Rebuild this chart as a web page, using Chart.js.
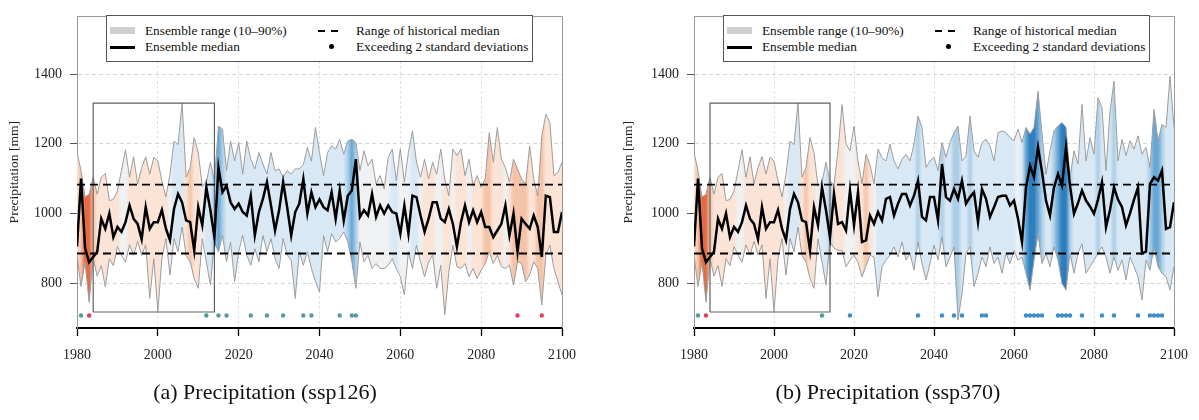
<!DOCTYPE html>
<html>
<head>
<meta charset="utf-8">
<script src="https://cdn.jsdelivr.net/npm/chart.js@4.4.1/dist/chart.umd.min.js"></script>
<style>
  html, body { margin:0; padding:0; background:#fff; }
  body { width:1199px; height:420px; position:relative; overflow:hidden; font-family:'Liberation Serif', 'Times New Roman', serif; }
  .panel { position:absolute; top:0; height:420px; }
  #p1 { left:0; width:600px; }
  #p2 { left:600px; width:599px; }
  canvas { display:block; }
  .legend { position:absolute; top:15px; width:427px; height:47px; border:1px solid #555; background:#fff; box-sizing:border-box; color:#111; font-size:13.3px; }
  .legend span { position:absolute; display:block; }
  .lt { line-height:16px; white-space:nowrap; }
  .sw-range { left:3px; top:11px; width:25px; height:7px; background:#cfcfcf; }
  .sw-med { left:3px; top:30px; width:25px; height:2.6px; background:#000; }
  .sw-dash { top:14px; width:7px; height:1.8px; background:#000; }
  .sw-dot { left:222px; top:28px; width:5px; height:5px; border-radius:50%; background:#000; }
  .caption { position:absolute; top:378px; font-size:22px; line-height:28px; white-space:nowrap; transform:translateX(-50%); color:#111; }
</style>
</head>
<body>
<div class="panel" id="p1">
  <canvas id="c1" width="600" height="420"></canvas>
  <div class="legend" style="left:106px">
    <span class="sw-range"></span><span class="lt" style="left:38px;top:7px">Ensemble range (10–90%)</span>
    <span class="sw-med"></span><span class="lt" style="left:38px;top:23px">Ensemble median</span>
    <span class="sw-dash" style="left:211px"></span><span class="sw-dash" style="left:224px"></span><span class="lt" style="left:249px;top:7px">Range of historical median</span>
    <span class="sw-dot"></span><span class="lt" style="left:249px;top:23px">Exceeding 2 standard deviations</span>
  </div>
  <div class="caption" style="left:265px">(a) Precipitation (ssp126)</div>
</div>
<div class="panel" id="p2">
  <canvas id="c2" width="599" height="420"></canvas>
  <div class="legend" style="left:123px">
    <span class="sw-range"></span><span class="lt" style="left:38px;top:7px">Ensemble range (10–90%)</span>
    <span class="sw-med"></span><span class="lt" style="left:38px;top:23px">Ensemble median</span>
    <span class="sw-dash" style="left:211px"></span><span class="sw-dash" style="left:224px"></span><span class="lt" style="left:249px;top:7px">Range of historical median</span>
    <span class="sw-dot"></span><span class="lt" style="left:249px;top:23px">Exceeding 2 standard deviations</span>
  </div>
  <div class="caption" style="left:288px">(b) Precipitation (ssp370)</div>
</div>

<script>
// ---------------- DATA ----------------
const firstYear = 1980, lastYear = 2100;
const years = [];
for (let y = firstYear; y <= lastYear; y++) years.push(y);

const xTickStep = 20;
const yTicks = [800, 1000, 1200, 1400];
const yRange = [671, 1566];
const histRange = [885, 1083];           // range of historical median
const boxYears = [1984, 2014];           // highlighted reference period
const boxRange = [717, 1317];
const dotLevel = 707;                    // row where exceedance dots sit

// ssp126
const ssp126Median = [
  905,1100,900,860,875,890,985,956,1000,932,
  961,947,975,1023,985,970,926,1018,956,975,
  975,1010,956,923,1013,1056,1032,980,975,894,
  1018,966,1075,1009,932,1132,1061,1080,1032,1013,
  1028,1004,994,1051,937,1004,1042,1090,1023,951,
  1009,1090,1018,937,1004,1028,1099,1000,1061,1018,
  1040,1018,1009,1061,985,1066,980,1051,1066,1156,
  990,1009,994,1056,990,1023,1000,1023,1004,1000,
  942,1023,942,1051,1047,994,947,985,1032,1032,
  985,975,1013,970,904,975,1023,975,1009,975,
  1004,961,961,932,951,970,1023,937,1000,890,
  985,970,956,994,961,875,1051,1047,947,947,
  1004];
const ssp126P90 = [
  1175,1123,1047,1055,1104,1055,1104,1115,1037,1040,
  1065,1123,1183,1104,1163,1085,1132,1163,1113,1161,
  1151,1094,1047,1113,1208,1198,1318,1104,1132,1218,
  1175,1078,1090,1147,1094,1251,1242,1123,1208,1151,
  1204,1113,1208,1156,1128,1175,1142,1113,1175,1123,
  1128,1104,1123,1113,1128,1128,1140,1190,1150,1247,
  1175,1109,1175,1194,1185,1213,1170,1208,1213,1204,
  1123,1180,1137,1156,1085,1109,1070,1161,1185,1094,
  1185,1090,1175,1237,1147,1104,1156,1099,1147,1113,
  1185,1099,1051,1185,1166,1185,1109,1156,1080,1109,
  1075,1099,1232,1147,1247,1156,1132,1090,1156,1128,
  1099,1085,1194,1099,1051,1223,1285,1261,1109,1118,
  1147];
const ssp126P10 = [
  880,790,860,745,870,820,850,790,870,850,
  905,880,860,910,880,920,880,910,756,870,
  718,870,928,823,928,890,961,880,861,813,
  785,928,861,794,918,890,937,861,918,804,
  890,937,880,851,899,861,937,890,928,870,
  842,928,880,866,756,890,851,890,842,804,
  775,937,890,942,918,928,947,918,861,785,
  918,861,880,842,856,842,842,851,870,842,
  818,766,890,842,909,861,818,861,880,785,
  851,709,832,909,847,842,856,818,842,813,
  837,856,890,856,880,847,842,851,794,861,
  856,804,823,861,842,737,880,909,842,804,
  766];
// anomaly shade class per year (-3 dry/red ... +4 wet/blue)
const ssp126Shade = [
  -1,-2,-3,-3,-2,-1,-1,-1,-1,-1,
  -1,0,0,-1,-1,-1,-1,-1,-1,-1,
  -1,-1,-1,0,1,1,1,-1,-2,-1,
  -1,0,1,1,2,3,2,1,1,1,
  1,1,1,1,1,1,1,1,1,1,
  1,1,1,1,1,1,1,1,1,1,
  1,1,1,1,1,1,1,2,3,2,
  0,0,0,0,0,0,0,0,1,1,
  0,0,0,1,1,0,-1,-1,-1,0,
  0,-1,-1,0,-1,-1,-1,0,-1,-1,
  -1,-2,-2,-1,-1,-1,0,-1,-2,-2,
  -2,-2,-1,-1,-2,-2,-1,-1,-1,-1,
  -1];
const ssp126DotYears = [1981,1983,2012,2015,2017,2023,2027,2031,2036,2038,2045,2048,2049,2089,2095];
const ssp126DotSign  = [1,-1,1,1,1,1,1,1,1,1,1,1,1,-1,-1];

// ssp370
const ssp370Median = [
  905,1100,900,860,875,890,985,956,1000,932,
  961,947,975,1023,985,970,926,1018,956,975,
  975,1010,956,923,1013,1056,1032,980,975,894,
  1018,966,1075,1009,932,1056,970,975,951,1066,
  966,1061,918,923,994,970,1004,980,1042,1047,
  994,1028,1056,1056,1023,1051,1094,990,980,1047,
  1047,980,1142,1047,1037,1070,1042,1094,1028,1047,
  1061,975,1070,1042,990,1018,1047,1051,1051,1023,
  1037,985,918,1075,1137,1104,1190,1120,1037,994,
  1075,1113,1080,1190,1080,999,1030,1066,1037,1020,
  999,1040,1090,961,1010,1075,1040,1018,966,1000,
  1040,1075,885,890,1085,1104,1094,1123,956,961,
  1032];
const ssp370P90 = [
  1175,1123,1047,1055,1104,1055,1104,1115,1037,1040,
  1065,1123,1183,1104,1163,1085,1132,1163,1113,1161,
  1151,1094,1047,1113,1208,1198,1318,1104,1132,1218,
  1175,1078,1090,1147,1094,1080,1180,1313,1200,1180,
  1251,1150,1085,1170,1140,1085,1185,1160,1151,1199,
  1151,1128,1156,1170,1151,1199,1280,1247,1132,1151,
  1161,1123,1204,1161,1204,1232,1251,1151,1166,1280,
  1180,1161,1204,1213,1194,1151,1232,1237,1232,1218,
  1209,1242,1204,1247,1228,1247,1351,1230,1113,1180,
  1237,1251,1261,1247,1104,1180,1142,1313,1151,1218,
  1170,1332,1304,1123,1294,1380,1151,1213,1166,1209,
  1185,1223,1170,1190,1132,1299,1209,1256,1247,1394,
  1247];
const ssp370P10 = [
  880,790,860,745,870,820,850,790,870,850,
  905,880,860,910,880,920,880,910,756,870,
  718,870,928,823,928,890,961,880,861,813,
  785,928,861,794,918,900,894,894,847,866,
  880,860,818,850,880,875,761,847,866,880,
  904,875,918,866,885,837,918,856,809,856,
  909,866,932,847,875,904,694,770,885,904,
  790,828,875,847,904,856,875,828,885,856,
  894,866,875,828,780,866,942,856,885,847,
  904,866,799,780,885,828,885,913,828,847,
  866,885,904,875,828,875,837,866,809,875,
  847,818,751,866,837,904,847,828,818,780,
  847];
const ssp370Shade = [
  -1,-2,-3,-3,-2,-1,-1,-1,-1,-1,
  -1,0,0,-1,-1,-1,-1,-1,-1,-1,
  -1,-1,-1,0,1,1,1,-1,-2,-1,
  -1,0,1,1,2,-1,-1,-1,0,0,
  0,-1,-1,-2,-1,0,1,1,1,1,
  1,1,1,1,1,1,2,1,1,1,
  1,1,2,1,1,2,2,1,1,2,
  1,1,1,1,1,1,1,1,1,1,
  1,0,1,3,4,4,3,2,1,1,
  2,3,4,4,2,1,1,1,1,1,
  1,2,1,1,1,2,1,1,1,1,
  1,1,1,1,2,3,3,2,1,1,
  1];
const ssp370DotYears = [1981,1983,2012,2019,2036,2042,2045,2047,2052,2053,2063,2064,2065,2066,2067,2071,2072,2073,2074,2077,2082,2085,2091,2094,2095,2096,2097];
const ssp370DotSign  = [1,-1,1,1,1,1,1,1,1,1,1,1,1,1,1,1,1,1,1,1,1,1,1,1,1,1,1];

// ---------------- STYLE ----------------
const shadeColors = {
  '-3':'#e36a43', '-2':'#f5c3a7', '-1':'#fbe3d5', '0':'#eff1f3',
  '1':'#d8e8f4', '2':'#abcee7', '3':'#66a7d5', '4':'#2e7dbc'
};
const serif = "'Liberation Serif', 'Times New Roman', serif";

const framePlugin = {
  id: 'frame',
  afterDatasetsDraw(chart) {
    const {ctx, chartArea: a} = chart;
    ctx.save();
    ctx.strokeStyle = '#9a9a9a';
    ctx.lineWidth = 1;
    ctx.beginPath();
    ctx.moveTo(a.left, Math.round(a.top) + 0.5);
    ctx.lineTo(Math.round(a.right) + 0.5, Math.round(a.top) + 0.5);
    ctx.lineTo(Math.round(a.right) + 0.5, a.bottom);
    ctx.stroke();
    ctx.restore();
  }
};

function pts(vals) { return years.map((y, i) => ({x: y, y: vals[i]})); }

// one horizontal gradient per chart, with a colour stop at each year's x position
function bandFill(shade) {
  let cache = null, key = '';
  return c => {
    const chart = c.chart, xs = chart.scales.x, a = chart.chartArea;
    const k = a.left + ',' + a.right;
    if (cache && key === k) return cache;
    const x0 = xs.getPixelForValue(firstYear), x1 = xs.getPixelForValue(lastYear);
    const g = chart.ctx.createLinearGradient(x0, 0, x1, 0);
    years.forEach((y, i) => {
      const f = (xs.getPixelForValue(y) - x0) / (x1 - x0);
      g.addColorStop(Math.min(1, Math.max(0, f)), shadeColors[String(shade[i])]);
    });
    cache = g; key = k;
    return g;
  };
}

function build(canvasId, d, geo) {
  const dotColors = d.dotYears.map((y, i) =>
    d.dotSign[i] < 0 ? '#d8435e' : (y <= boxYears[1] ? '#4e9e94' : geo.wetDot));
  const boxPts = [
    {x: boxYears[0], y: boxRange[0]}, {x: boxYears[0], y: boxRange[1]},
    {x: boxYears[1], y: boxRange[1]}, {x: boxYears[1], y: boxRange[0]},
    {x: boxYears[0], y: boxRange[0]}
  ];
  return new Chart(document.getElementById(canvasId), {
    type: 'line',
    data: {
      datasets: [
        { label: 'p90', data: pts(d.p90), borderColor: '#9d9d9d', borderWidth: 1,
          pointRadius: 0, fill: '+1', backgroundColor: '#d8e8f4', order: 10,
          segment: { backgroundColor: bandFill(d.shade) } },
        { label: 'p10', data: pts(d.p10), borderColor: '#9d9d9d', borderWidth: 1,
          pointRadius: 0, fill: false, order: 9 },
        { label: 'box', data: boxPts, borderColor: '#606060', borderWidth: 1.2,
          pointRadius: 0, fill: false, order: 5 },
        { label: 'histHi', data: [{x: firstYear, y: histRange[1]}, {x: lastYear, y: histRange[1]}],
          borderColor: '#000', borderWidth: 1.8, borderDash: [8, 5], pointRadius: 0, fill: false, order: 3 },
        { label: 'histLo', data: [{x: firstYear, y: histRange[0]}, {x: lastYear, y: histRange[0]}],
          borderColor: '#000', borderWidth: 1.8, borderDash: [8, 5], pointRadius: 0, fill: false, order: 3 },
        { label: 'median', data: pts(d.median), borderColor: '#000', borderWidth: 2.5,
          pointRadius: 0, fill: false, order: 1 },
        { label: 'dots', data: d.dotYears.map(y => ({x: y, y: dotLevel})), showLine: false,
          pointRadius: 2.2, pointBorderWidth: 0, pointBackgroundColor: dotColors, order: 0 }
      ]
    },
    options: {
      responsive: false, animation: false, devicePixelRatio: 1,
      elements: { line: { tension: 0 } },
      layout: { padding: { left: geo.padLeft, right: geo.padRight, top: 15, bottom: 42 } },
      plugins: { legend: { display: false }, tooltip: { enabled: false } },
      scales: {
        x: {
          type: 'linear', min: firstYear, max: lastYear,
          ticks: { stepSize: xTickStep, callback: v => String(v), color: '#222',
                   font: { family: serif, size: 14 }, padding: 11, maxRotation: 0, autoSkip: false },
          grid: { color: c => (c.tick && (c.tick.value === firstYear || c.tick.value === lastYear)) ? 'rgba(0,0,0,0)' : '#d6d6d6',
                  lineWidth: 1, tickColor: '#000', tickLength: 8, tickWidth: 1.3 },
          border: { display: true, color: '#000', width: 2, dash: [2, 3] },
          afterFit: s => { s.height = 50; }
        },
        y: {
          min: yRange[0], max: yRange[1],
          afterBuildTicks: s => { s.ticks = yTicks.map(v => ({value: v})); },
          ticks: { callback: v => String(v), color: '#222', font: { family: serif, size: 14 }, padding: 8 },
          grid: { color: '#d6d6d6', lineWidth: 1, tickColor: '#555', tickLength: 7, tickWidth: 1 },
          border: { display: true, color: '#9a9a9a', width: 1, dash: [4, 3] },
          title: { display: true, text: 'Precipitation [mm]', color: '#222',
                   font: { family: serif, size: 13.5 }, padding: { top: 6, bottom: 0 } },
          afterFit: s => { s.width = geo.yWidth; }
        }
      }
    },
    plugins: [framePlugin]
  });
}

build('c1', { median: ssp126Median, p90: ssp126P90, p10: ssp126P10, shade: ssp126Shade,
              dotYears: ssp126DotYears, dotSign: ssp126DotSign },
      { padLeft: 0, padRight: 38, yWidth: 77, wetDot: '#5c98a6' });
build('c2', { median: ssp370Median, p90: ssp370P90, p10: ssp370P10, shade: ssp370Shade,
              dotYears: ssp370DotYears, dotSign: ssp370DotSign },
      { padLeft: 14, padRight: 20, yWidth: 80, wetDot: '#3d8cc4' });
</script>
</body>
</html>
